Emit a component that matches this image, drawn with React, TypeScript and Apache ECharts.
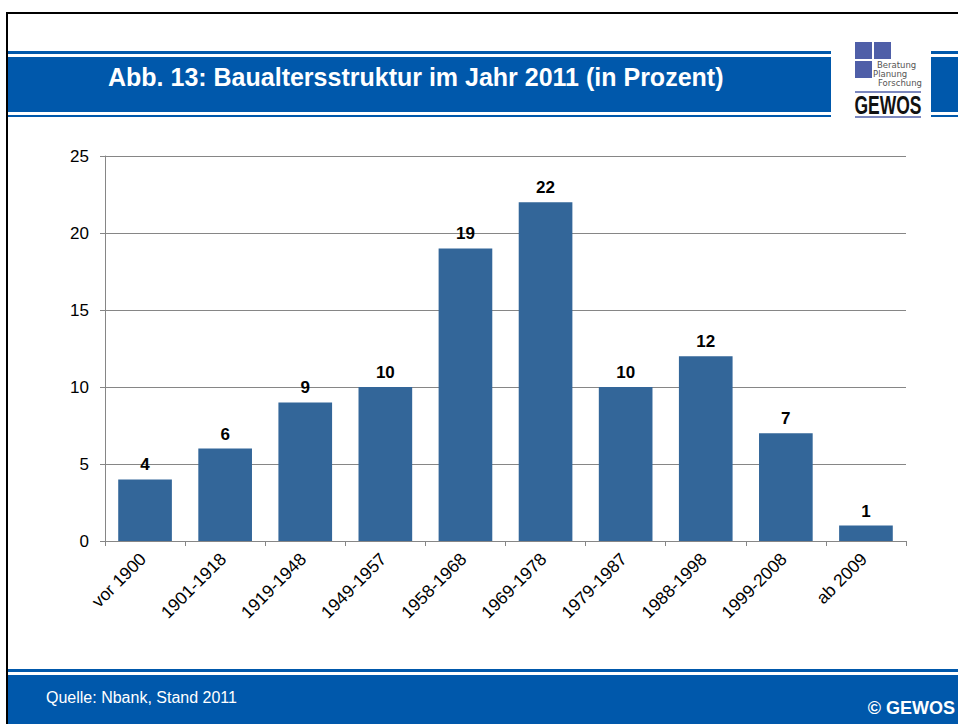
import React, { useEffect, useRef } from "react";
import * as echarts from "echarts";

const categories = ["vor 1900", "1901-1918", "1919-1948", "1949-1957", "1958-1968", "1969-1978", "1979-1987", "1988-1998", "1999-2008", "ab 2009"];
const values = [4, 6, 9, 10, 19, 22, 10, 12, 7, 1];
const titleText = "Abb. 13: Baualtersstruktur im Jahr 2011 (in Prozent)";
const sourceText = "Quelle: Nbank, Stand 2011";
const copyrightText = "© GEWOS";
const logoLines = ["Beratung", "Planung", "Forschung"];

const BLUE = "#0058ab";
const BAR = "#336699";
const LOGO = "#4f5fa8";

export default function App() {
  const ref = useRef<HTMLDivElement>(null);
  useEffect(() => {
    if (!ref.current) return;
    const chart = echarts.init(ref.current, null, { renderer: "svg" });
    const font = "Arial, 'Liberation Sans', sans-serif";
    const logoX = [877, 873, 878];
    chart.setOption({
      animation: false,
      backgroundColor: "#ffffff",
      grid: { left: 105, right: 52, top: 156, bottom: 183 },
      xAxis: {
        type: "category",
        data: categories,
        axisLine: { lineStyle: { color: "#868686", width: 1 } },
        axisTick: { show: true, length: 5, alignWithLabel: false, lineStyle: { color: "#868686" } },
        axisLabel: { rotate: 45, fontSize: 17.5, color: "#000", fontFamily: font, margin: 13, padding: [0, 3, 0, 0], interval: 0 },
      },
      yAxis: {
        type: "value",
        min: 0,
        max: 25,
        interval: 5,
        axisLine: { show: true, lineStyle: { color: "#868686" } },
        axisTick: { show: true, length: 5, lineStyle: { color: "#868686" } },
        splitLine: { lineStyle: { color: "#868686", width: 1 } },
        axisLabel: { fontSize: 17, color: "#000", fontFamily: font, margin: 16 },
      },
      series: [
        {
          type: "bar",
          data: values,
          barWidth: "67%",
          itemStyle: { color: BAR },
          label: { show: true, position: "top", distance: 6, fontSize: 17, fontWeight: "bold", color: "#000", fontFamily: font },
        },
      ],
      graphic: [
        // border
        { type: "line", shape: { x1: 7, y1: 13, x2: 958, y2: 13 }, style: { stroke: "#000", lineWidth: 2 } },
        { type: "line", shape: { x1: 7, y1: 12, x2: 7, y2: 724 }, style: { stroke: "#000", lineWidth: 2 } },
        // header bands
        { type: "rect", shape: { x: 8, y: 51, width: 823, height: 3 }, style: { fill: BLUE } },
        { type: "rect", shape: { x: 8, y: 57, width: 823, height: 55 }, style: { fill: BLUE } },
        { type: "rect", shape: { x: 8, y: 115, width: 823, height: 2 }, style: { fill: BLUE } },
        { type: "rect", shape: { x: 931, y: 51, width: 27, height: 3 }, style: { fill: BLUE } },
        { type: "rect", shape: { x: 931, y: 57, width: 27, height: 55 }, style: { fill: BLUE } },
        { type: "rect", shape: { x: 931, y: 115, width: 27, height: 2 }, style: { fill: BLUE } },
        {
          type: "text",
          x: 108,
          y: 77,
          style: { text: titleText, fill: "#fff", font: `bold 25px ${font}`, textVerticalAlign: "middle", textAlign: "left" },
        },
        // logo
        { type: "rect", shape: { x: 855, y: 42, width: 17, height: 17 }, style: { fill: LOGO } },
        { type: "rect", shape: { x: 874, y: 42, width: 17, height: 17 }, style: { fill: LOGO } },
        { type: "rect", shape: { x: 855, y: 61, width: 17, height: 17 }, style: { fill: LOGO } },
        ...logoLines.map((t, i) => ({
          type: "text",
          x: logoX[i],
          y: 65 + i * 9.2,
          style: { text: t, fill: "#555", font: `8.5px 'DejaVu Sans', sans-serif`, lineHeight: 9, textAlign: "left", textVerticalAlign: "middle" },
        })),
        { type: "line", shape: { x1: 855, y1: 92, x2: 921, y2: 92 }, style: { stroke: LOGO, lineWidth: 1.5 } },
        { type: "line", shape: { x1: 855, y1: 117, x2: 921, y2: 117 }, style: { stroke: LOGO, lineWidth: 1.5 } },
        {
          type: "text",
          x: 888,
          y: 105,
          scaleX: 0.7,
          originX: 0,
          originY: 0,
          style: { text: "GEWOS", fill: "#111", font: `bold 25px ${font}`, textAlign: "center", textVerticalAlign: "middle" },
        },
        // footer
        { type: "rect", shape: { x: 8, y: 669, width: 950, height: 3 }, style: { fill: BLUE } },
        { type: "rect", shape: { x: 8, y: 675, width: 950, height: 49 }, style: { fill: BLUE } },
        {
          type: "text",
          x: 46,
          y: 697,
          style: { text: sourceText, fill: "#fff", font: `16px ${font}`, textAlign: "left", textVerticalAlign: "middle" },
        },
        {
          type: "text",
          x: 955,
          y: 708,
          style: { text: copyrightText, fill: "#fff", font: `bold 18px ${font}`, textAlign: "right", textVerticalAlign: "middle" },
        },
      ],
    });
    return () => chart.dispose();
  }, []);
  return <div ref={ref} style={{ position: "absolute", left: 0, top: 0, width: 958, height: 724 }} />;
}
